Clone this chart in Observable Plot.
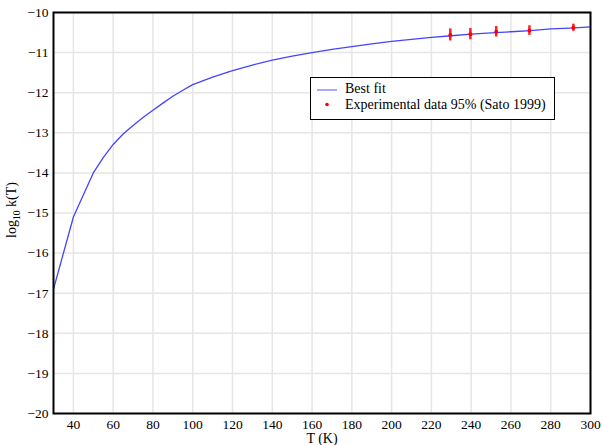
<!DOCTYPE html>
<html><head><meta charset="utf-8">
<script src="https://cdn.jsdelivr.net/npm/d3@7"></script>
<script src="https://cdn.jsdelivr.net/npm/@observablehq/plot@0.6"></script>
<style>
body{margin:0;background:#fff;}
#wrap{position:relative;width:603px;height:445px;}
#legend{position:absolute;left:310px;top:77px;width:245px;height:43px;border:1px solid #000;background:#fff;box-sizing:border-box;font:14px "Liberation Serif",serif;color:#000;}
#legend .t{position:absolute;left:34px;white-space:nowrap;line-height:14px;height:14px;}
</style></head><body><div id="wrap"></div>
<script>
const fitT = [30,40,50,55,60,65,70,75,80,85,90,95,100,110,120,130,140,150,160,170,180,190,200,210,220,230,240,250,260,270,280,290,300];
const fitLogK = [-16.9,-15.1,-14.0,-13.62,-13.29,-13.03,-12.82,-12.62,-12.44,-12.26,-12.09,-11.94,-11.8,-11.61,-11.45,-11.31,-11.19,-11.09,-11.0,-10.92,-10.85,-10.78,-10.72,-10.67,-10.62,-10.58,-10.54,-10.51,-10.48,-10.45,-10.41,-10.39,-10.36];
const expT = [229.5,239.6,252.6,269.3,291.4];
const expLogK = [-10.56,-10.54,-10.48,-10.45,-10.38];
const expErr = [0.15,0.14,0.13,0.12,0.09];
const xTicks = [40,60,80,100,120,140,160,180,200,220,240,260,280,300];
const yTicks = [-10,-11,-12,-13,-14,-15,-16,-17,-18,-19,-20];
const legendLabels = ["Best fit","Experimental data 95% (Sato 1999)"];
const xLabel = "T (K)";

const fit = fitT.map((T,i)=>({T, v: fitLogK[i]}));
const exp = expT.map((T,i)=>({T, v: expLogK[i], e: expErr[i]}));

const chart = Plot.plot({
  width: 603, height: 445,
  marginLeft: 53, marginRight: 13, marginTop: 12, marginBottom: 32,
  style: {fontFamily: "'Liberation Serif', serif", fontSize: "13.5px", color: "#000", background: "#fff"},
  x: {domain: [30,300], ticks: xTicks, tickSize: 0, tickPadding: 6, label: null},
  y: {domain: [-20,-10], ticks: yTicks, tickSize: 0, tickPadding: 5, label: null},
  marks: [
    Plot.gridX(xTicks, {stroke: "#e6e6e6", strokeOpacity: 1, strokeWidth: 1.5}),
    Plot.gridY(yTicks, {stroke: "#e6e6e6", strokeOpacity: 1, strokeWidth: 1.5}),
    Plot.line(fit, {x: "T", y: "v", stroke: "#4444ff", strokeWidth: 1.3}),
    Plot.ruleX(exp, {x: "T", y1: d => d.v - d.e, y2: d => d.v + d.e, stroke: "#ff2020", strokeWidth: 2.5}),
    Plot.dot(exp, {x: "T", y: "v", r: 2, fill: "#ff0000"}),
    Plot.frame({stroke: "#000", strokeWidth: 2})
  ]
});
const wrap = document.getElementById("wrap");
wrap.appendChild(chart);

const svg = d3.select(chart);
const yl = svg.append("text")
  .attr("transform", "translate(16,210) rotate(-90)")
  .attr("text-anchor", "middle")
  .attr("font-family", "'Liberation Serif', serif")
  .attr("font-size", 14).attr("fill", "#000");
yl.append("tspan").text("log");
yl.append("tspan").attr("font-size", 9.5).attr("dy", 4).text("10");
yl.append("tspan").attr("dy", -4).text(" k(T)");
svg.append("text")
  .attr("x", 322).attr("y", 443)
  .attr("text-anchor", "middle")
  .attr("font-family", "'Liberation Serif', serif")
  .attr("font-size", 14).attr("fill", "#000")
  .text(xLabel);

const lg = document.createElement("div");
lg.id = "legend";
lg.innerHTML = `<svg width="30" height="40" style="position:absolute;left:0;top:0">
<line x1="6" x2="26" y1="12" y2="12" stroke="#a8a8ff" stroke-width="2"/>
<circle cx="16" cy="26.5" r="1.8" fill="#ff0000"/></svg>
<div class="t" style="top:4px">${legendLabels[0]}</div>
<div class="t" style="top:20px">${legendLabels[1]}</div>`;
wrap.appendChild(lg);
</script></body></html>
